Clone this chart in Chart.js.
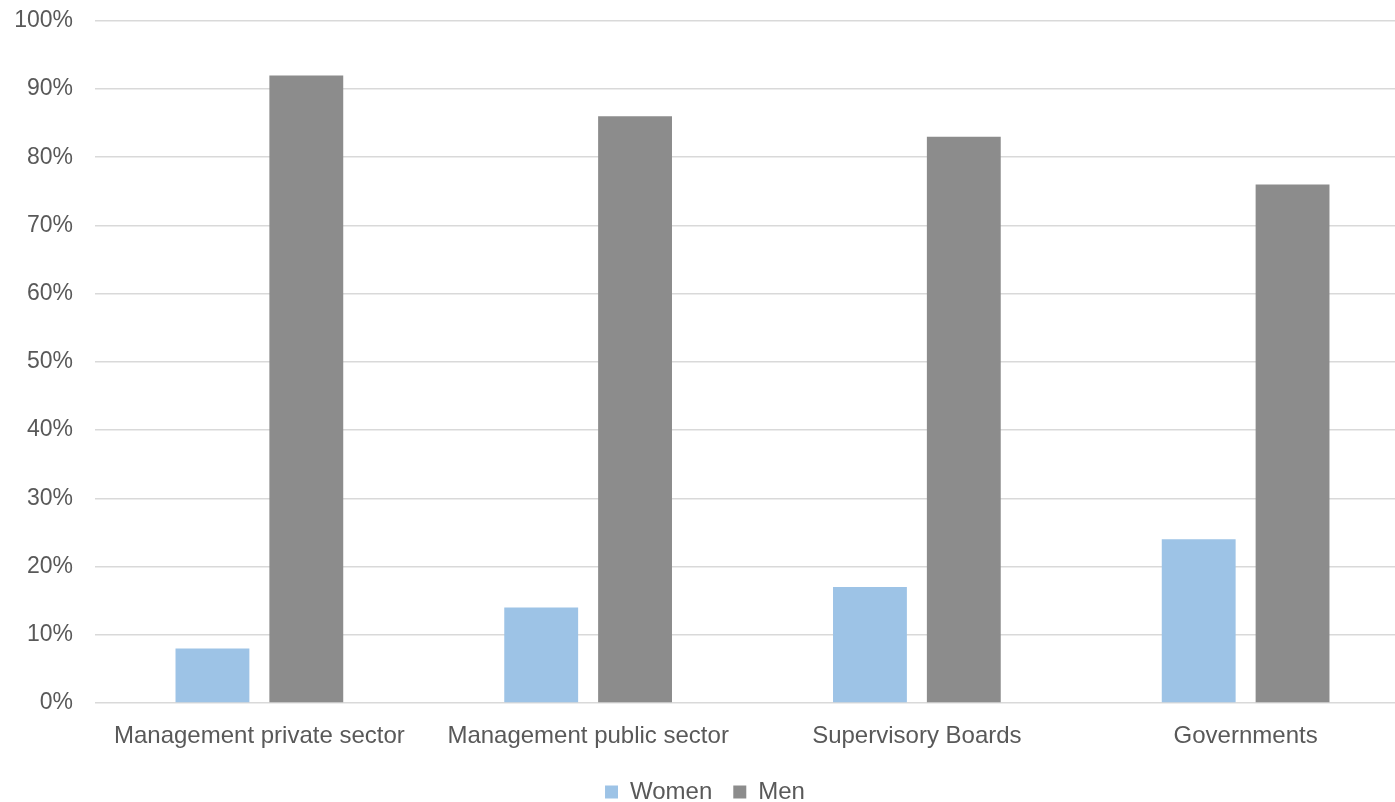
<!DOCTYPE html>
<html lang="en">
<head>
  <meta charset="UTF-8" />
  <title>Women and Men in Leadership</title>
  <script src="https://cdn.jsdelivr.net/npm/chart.js"></script>
  <style>
    * { margin: 0; padding: 0; box-sizing: border-box; }
    body { background: #fff; width: 1395px; height: 802px; overflow: hidden; position: relative; }
    /* the original plot runs a bit past the right edge, so the canvas is wider than the page */
    .wrap { position: absolute; left: 0; top: -15px; width: 1410px; height: 817px; }
  </style>
</head>
<body>
<div class="wrap">
  <canvas id="chart"></canvas>
</div>
<script>
const categories = ['Management private sector', 'Management public sector', 'Supervisory Boards', 'Governments'];
const women = [8, 14, 17, 24];
const men = [92, 86, 83, 76];

const textColor = '#595959';
const gridColor = '#D9D9D9';
const fontFamily = '"Liberation Sans", Arial, sans-serif';

const ctx = document.getElementById('chart').getContext('2d');
new Chart(ctx, {
  type: 'bar',
  data: {
    labels: categories,
    datasets: [
      { label: 'Women', data: women, backgroundColor: '#9DC3E6' },
      { label: 'Men', data: men, backgroundColor: '#8C8C8C' }
    ]
  },
  options: {
    responsive: true,
    maintainAspectRatio: false,
    animation: false,
    datasets: {
      bar: { categoryPercentage: 0.571, barPercentage: 0.787 }
    },
    layout: { padding: { top: 5, right: 0, bottom: -12, left: 0 } },
    plugins: {
      tooltip: { enabled: false },
      legend: {
        position: 'bottom',
        labels: {
          color: textColor,
          boxWidth: 13,
          boxHeight: 13,
          padding: 21,
          font: { family: fontFamily, size: 24 }
        }
      }
    },
    scales: {
      x: {
        afterFit: (scale) => { scale.height = 56; },
        grid: { display: false, drawTicks: false },
        border: { display: false },
        ticks: {
          color: textColor,
          padding: 19,
          maxRotation: 0,
          font: { family: fontFamily, size: 24 }
        }
      },
      y: {
        min: 0,
        max: 100,
        afterFit: (scale) => { scale.width = 95; },
        grid: { color: gridColor, lineWidth: 1.5, drawTicks: false },
        border: { display: false },
        ticks: {
          stepSize: 10,
          color: textColor,
          padding: 22,
          font: { family: fontFamily, size: 23 },
          callback: (v) => v + '%'
        }
      }
    }
  }
});
</script>
</body>
</html>
